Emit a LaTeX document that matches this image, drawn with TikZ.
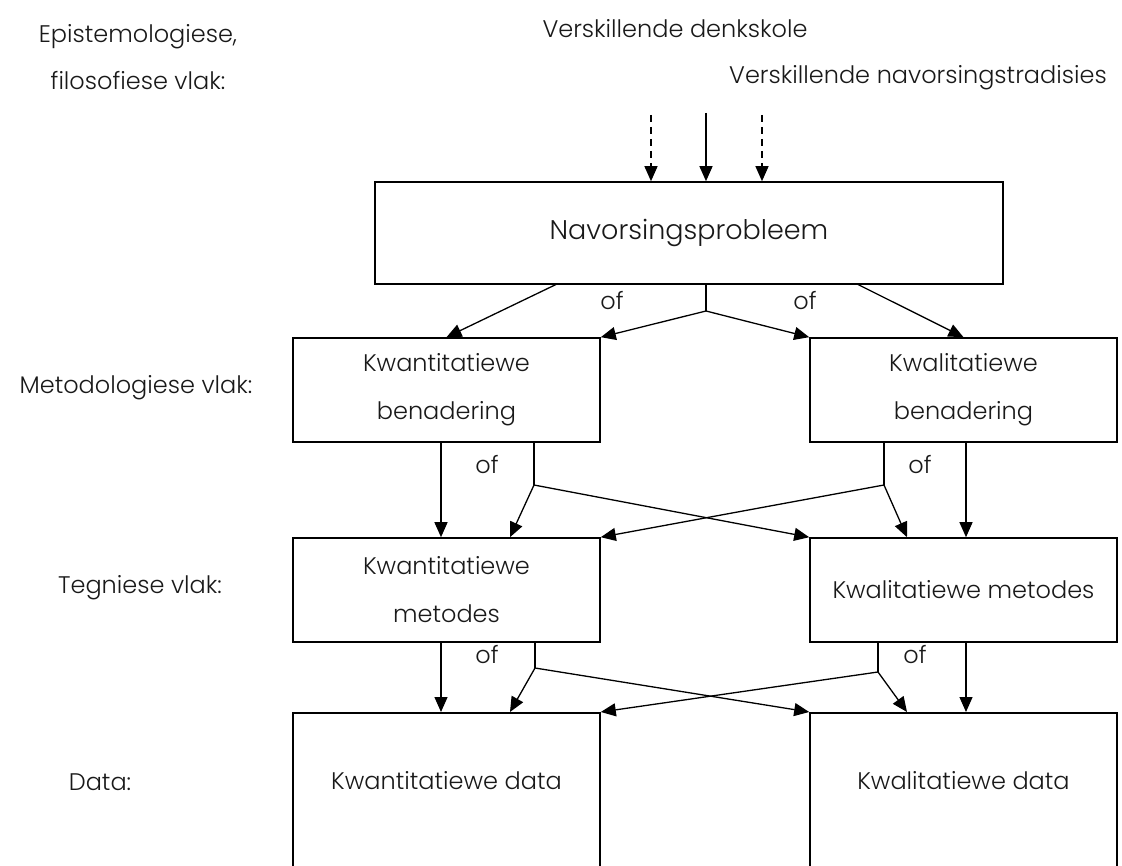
\documentclass[tikz,border=0pt]{standalone}
\usepackage{fontspec}
\setmainfont{Poppins}[UprightFont=* Light]
\usetikzlibrary{arrows.meta,positioning}

\begin{document}
\begin{tikzpicture}[x=1pt, y=-1pt,
box/.style={draw, line width=1.6pt, inner sep=0pt, align=center, text=black!90, font=\fontsize{24}{48}\selectfont},
rowbox/.style={box, minimum width=307pt, minimum height=104pt},
lbl/.style={inner sep=0pt, align=center, text=black!90, font=\fontsize{24}{47}\selectfont},
arr/.style={line width=1.3pt, -{Triangle[length=15pt,width=13pt]}},
ln/.style={line width=1.3pt}]

\useasboundingbox (0,0) rectangle (1122,866);
\clip (0,0) rectangle (1122,866);

% vlakke links
\node[lbl] (epist)   at (138,57)  {Epistemologiese,\\filosofiese vlak:};
\node[lbl] (metvlak) at (136,388) {Metodologiese vlak:};
\node[lbl] (tegvlak) at (140,588) {Tegniese vlak:};
\node[lbl] (datvlak) at (100,782) {Data:};

% bo
\node[lbl] (denk) at (675,29) {Verskillende denkskole};
\node[lbl] (trad) at (918,78) {Verskillende navorsingstradisies};

% blokke
\node[box, minimum width=628pt, minimum height=102pt, font=\fontsize{27}{30}\selectfont] (probleem) at (689,233) {Navorsingsprobleem};
\node[rowbox] (kwanben) at (446.5,390) {Kwantitatiewe\\benadering};
\node[rowbox] (kwalben) at (963.5,390) {Kwalitatiewe\\benadering};
\node[rowbox] (kwanmet) at (446.5,590) {Kwantitatiewe\\metodes};
\node[rowbox] (kwalmet) at (963.5,590) {Kwalitatiewe metodes};
\node[box, minimum width=307pt, anchor=north, text height=77pt, text depth=140pt] (kwandat) at (446.5,712) {Kwantitatiewe data};
\node[box, minimum width=307pt, anchor=north, text height=77pt, text depth=140pt] (kwaldat) at (963.5,712) {Kwalitatiewe data};

% pyle bo
\coordinate (denkA) at (651,115);
\coordinate (denkB) at (706,113);
\coordinate (denkC) at (762,115);
\draw[arr, dash pattern=on 7pt off 5pt] (denkA) -- (denkA |- probleem.north);
\draw[arr] (denkB) -- (denkB |- probleem.north);
\draw[arr, dash pattern=on 7pt off 5pt] (denkC) -- (denkC |- probleem.north);

% probleem na benaderings
\coordinate (probL) at (557,284);
\coordinate (probR) at (857,284);
\coordinate (splitP) at (706,311);
\draw[arr] (probL) -- (kwanben.north);
\draw[arr] (probR) -- (kwalben.north);
\draw[ln] (probleem.south -| splitP) -- (splitP);
\draw[arr] (splitP) -- (kwanben.north east);
\draw[arr] (splitP) -- (kwalben.north west);
\node[lbl] (ofP1) at (612,301) {of};
\node[lbl] (ofP2) at (805,301) {of};

% benaderings na metodes
\coordinate (vL) at (441,0);
\coordinate (tL) at (510,0);
\coordinate (tR) at (907,0);
\coordinate (vR) at (966,0);
\coordinate (splitB1) at (534,485);
\coordinate (splitB2) at (884,485);
\draw[arr] (kwanben.south -| vL) -- (kwanmet.north -| vL);
\draw[ln] (kwanben.south -| splitB1) -- (splitB1);
\draw[arr] (splitB1) -- (kwanmet.north -| tL);
\draw[arr] (splitB1) -- (kwalmet.north west);
\draw[ln] (kwalben.south -| splitB2) -- (splitB2);
\draw[arr] (splitB2) -- (kwanmet.north east);
\draw[arr] (splitB2) -- (kwalmet.north -| tR);
\draw[arr] (kwalben.south -| vR) -- (kwalmet.north -| vR);
\node[lbl] (ofB1) at (487,465) {of};
\node[lbl] (ofB2) at (920,465) {of};

% metodes na data
\coordinate (splitM1) at (535,668);
\coordinate (splitM2) at (878,672);
\draw[arr] (kwanmet.south -| vL) -- (kwandat.north -| vL);
\draw[ln] (kwanmet.south -| splitM1) -- (splitM1);
\draw[arr] (splitM1) -- (kwandat.north -| tL);
\draw[arr] (splitM1) -- (kwaldat.north west);
\draw[ln] (kwalmet.south -| splitM2) -- (splitM2);
\draw[arr] (splitM2) -- (kwandat.north east);
\draw[arr] (splitM2) -- (kwaldat.north -| tR);
\draw[arr] (kwalmet.south -| vR) -- (kwaldat.north -| vR);
\node[lbl] (ofM1) at (487,655) {of};
\node[lbl] (ofM2) at (915,655) {of};

\end{tikzpicture}
\end{document}
